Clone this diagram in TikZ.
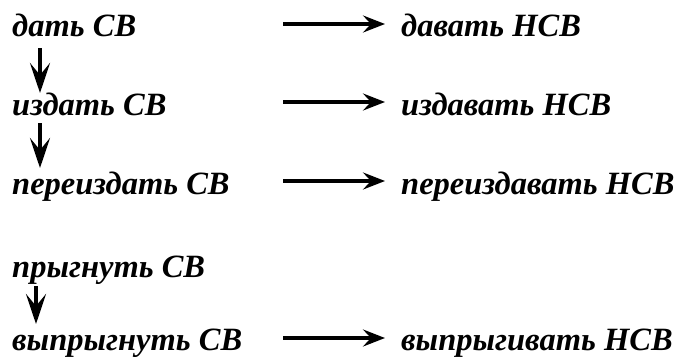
\documentclass[tikz,border=0pt]{standalone}
\usepackage{fontspec}
\setmainfont{Liberation Serif}
\usetikzlibrary{arrows.meta}
\begin{document}
\begin{tikzpicture}[x=1pt,y=-1pt,
  word/.style={anchor=base west,inner sep=0pt,font=\fontsize{32.5}{36}\selectfont\bfseries\itshape},
  harr/.style={line width=3.4pt,-{Stealth[length=22pt,width=17pt,inset=8pt]}},
  varr/.style={line width=3.8pt,-{Stealth[length=30pt,width=20pt,inset=12pt]}}]
\useasboundingbox (0,0) rectangle (677,359);
% left column
\node[word] (a1) at (12,36) {дать СВ};
\node[word] (a2) at (12,115) {издать СВ};
\node[word] (a3) at (12,194) {переиздать СВ};
\node[word] (a4) at (12,277) {прыгнуть СВ};
\node[word] (a5) at (12,350) {выпрыгнуть СВ};
% right column
\node[word] (b1) at (401,36) {давать НСВ};
\node[word] (b2) at (401,115) {издавать НСВ};
\node[word] (b3) at (401,194) {переиздавать НСВ};
\node[word] (b5) at (401,350) {выпрыгивать НСВ};
% horizontal arrow ends
\coordinate (h1s) at (283,24);  \coordinate (h1e) at (385,24);
\coordinate (h2s) at (283,102); \coordinate (h2e) at (385,102);
\coordinate (h3s) at (283,181); \coordinate (h3e) at (385,181);
\coordinate (h5s) at (283,338); \coordinate (h5e) at (385,338);
\draw[harr] (h1s) -- (h1e);
\draw[harr] (h2s) -- (h2e);
\draw[harr] (h3s) -- (h3e);
\draw[harr] (h5s) -- (h5e);
% vertical arrows
\coordinate (v1s) at (40,48);  \coordinate (v1e) at (40,93);
\coordinate (v2s) at (40,123); \coordinate (v2e) at (40,168);
\coordinate (v4s) at (36,286); \coordinate (v4e) at (36,324);
\draw[varr] (v1s) -- (v1e);
\draw[varr] (v2s) -- (v2e);
\draw[varr] (v4s) -- (v4e);
\end{tikzpicture}
\end{document}
